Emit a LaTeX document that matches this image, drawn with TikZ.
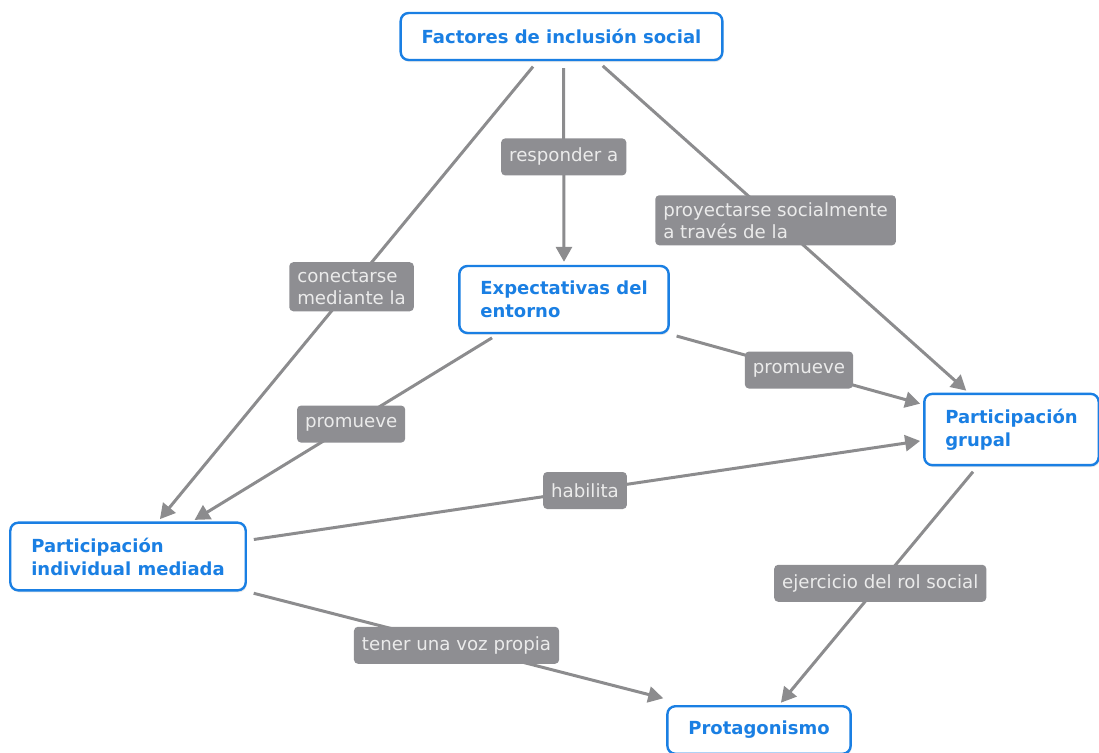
\documentclass[tikz,border=0pt]{standalone}
\usepackage{fontspec}
\setmainfont{DejaVu Sans}
\usepackage{xcolor}
\definecolor{ConceptBlue}{HTML}{1A7FE3}
\definecolor{LinkGrey}{HTML}{8C8C8E}
\definecolor{PhraseGrey}{HTML}{8E8E92}
\usetikzlibrary{arrows.meta, shadows}

\begin{document}
\begin{tikzpicture}[
  x=1pt, y=-1pt,
  concept/.style={
    rectangle, rounded corners=8pt,
    draw=ConceptBlue, fill=white, line width=2.4pt,
    text=ConceptBlue, align=left,
    inner xsep=21pt, inner ysep=15pt, minimum height=47pt,
    font=\fontsize{18}{23}\selectfont\bfseries,
    drop shadow={shadow xshift=1pt, shadow yshift=-2pt, opacity=0.18}
  },
  phrase/.style={
    rectangle, rounded corners=4pt,
    fill=PhraseGrey, text=white!92!black, align=left,
    inner xsep=8pt, inner ysep=7pt, minimum height=37pt,
    font=\fontsize{18.2}{22}\selectfont
  },
  link/.style={draw=LinkGrey, line width=3pt,
    -{Triangle[length=15pt, width=16pt]},
    shorten <=7pt, shorten >=3pt},
]
\useasboundingbox (0,0) rectangle (1099,752);

% concepts
\node[concept] (fact)  at (561.5,36.5) {Factores de inclusión social};
\node[concept] (expt)  at (564,299.5)  {Expectativas del\\entorno};
\node[concept] (grup)  at (1011.5,429.5) {Participación\\grupal};
\node[concept] (indiv) at (128,556.5)  {Participación\\individual mediada};
\node[concept] (prot)  at (759,730)    {Protagonismo};

% links with linking phrases
\draw[link] ([xshift=2pt]fact.south) -- node[phrase, pos=0.47] (resp) {responder a} (expt.north);
\draw[link] ([xshift=-24pt]fact.south) -- node[phrase, pos=0.49] (conec) {conectarse\\mediante la} ([xshift=30pt]indiv.north);
\draw[link] ([xshift=36pt]fact.south) -- node[phrase, pos=0.48] (proy) {proyectarse socialmente\\a través de la} ([xshift=-43pt]grup.north);
\draw[link] ([xshift=-66pt]expt.south) -- node[phrase, pos=0.48] (promi) {promueve} ([xshift=64pt]indiv.north);
\draw[link] (expt.south east) -- node[phrase, pos=0.51] (promd) {promueve} ([yshift=25pt]grup.west);
\draw[link] ([yshift=16pt]indiv.east) -- node[phrase, pos=0.5] (hab) {habilita} ([yshift=-11pt]grup.west);
\draw[link] ([xshift=-34pt]grup.south) -- node[phrase, pos=0.49] (ejer) {ejercicio del rol social} ([xshift=20pt]prot.north);
\draw[link] (indiv.south east) -- node[phrase, pos=0.5] (voz) {tener una voz propia} ([yshift=6pt]prot.north west);

\end{tikzpicture}
\end{document}
